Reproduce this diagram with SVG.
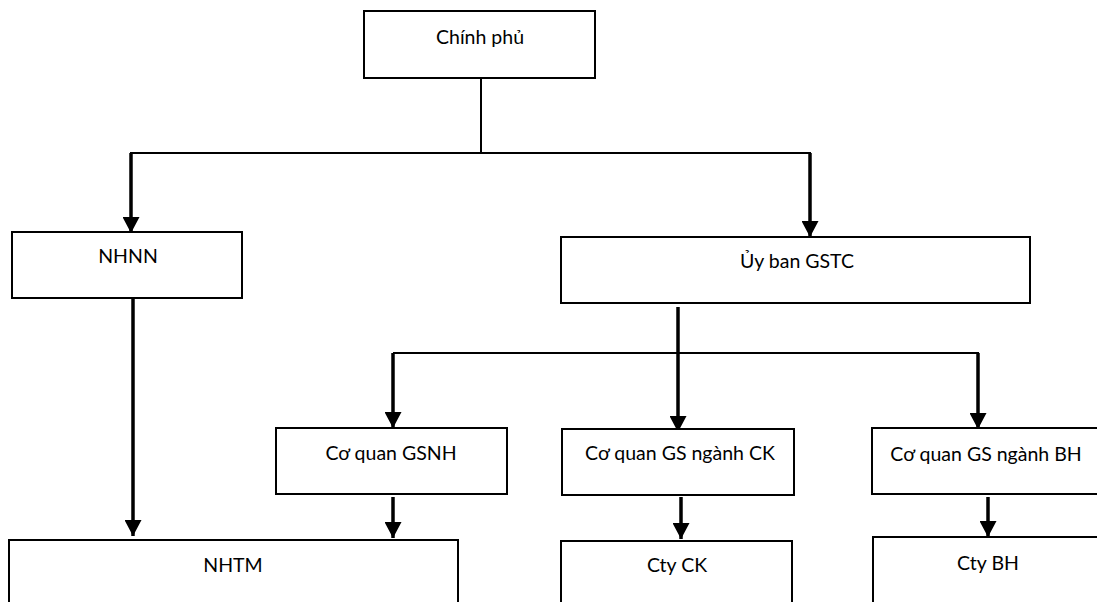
<svg xmlns="http://www.w3.org/2000/svg" width="1097" height="602" viewBox="0 0 1097 602">
<style>
.box{fill:#fff;stroke:#000;stroke-width:2}
.lbl{font-family:Lato,"Liberation Sans",sans-serif;font-size:19.5px;fill:#000;text-anchor:middle}
.thin{fill:none;stroke:#000;stroke-width:2}
.arr{fill:none;stroke:#000;stroke-width:3.5;marker-end:url(#ah)}
</style>
<defs>
<marker id="ah" markerUnits="userSpaceOnUse" markerWidth="17" markerHeight="17" refX="16" refY="8.5" orient="auto">
<path d="M0,0 L16,8.5 L0,17 Z" fill="#000"/>
</marker>
</defs>
<rect width="1097" height="602" fill="#fff"/>
<g id="connectors">
<path class="thin" d="M481,78 V153"/>
<path class="thin" d="M130,153 H811"/>
<path class="arr" d="M131,153 V233"/>
<path class="arr" d="M810,153 V237"/>
<path class="arr" d="M678,307 V432"/>
<path class="thin" d="M393,353 H979"/>
<path class="arr" d="M393,353 V428"/>
<path class="arr" d="M978,353 V429"/>
<path class="arr" d="M133,299 V536"/>
<path class="arr" d="M393,497 V538"/>
<path class="arr" d="M681,497 V539"/>
<path class="arr" d="M988,497 V537"/>
</g>
<g id="chinh-phu"><rect class="box" x="364" y="11" width="231" height="67"/><text class="lbl" x="480" y="44">Chính phủ</text></g>
<g id="nhnn"><rect class="box" x="12" y="232" width="230" height="66"/><text class="lbl" x="128" y="263">NHNN</text></g>
<g id="uy-ban-gstc"><rect class="box" x="561" y="237" width="469" height="66"/><text class="lbl" x="797" y="268">Ủy ban GSTC</text></g>
<g id="co-quan-gsnh"><rect class="box" x="276" y="428" width="231" height="66"/><text class="lbl" x="391" y="460">Cơ quan GSNH</text></g>
<g id="co-quan-gs-ck"><rect class="box" x="562" y="429" width="232" height="66"/><text class="lbl" x="680" y="460">Cơ quan GS ngành CK</text></g>
<g id="co-quan-gs-bh"><rect class="box" x="872" y="428" width="230" height="66"/><text class="lbl" x="986" y="461">Cơ quan GS ngành BH</text></g>
<g id="nhtm"><rect class="box" x="9" y="540" width="449" height="80"/><text class="lbl" x="233" y="572">NHTM</text></g>
<g id="cty-ck"><rect class="box" x="561" y="541" width="231" height="80"/><text class="lbl" x="677" y="572">Cty CK</text></g>
<g id="cty-bh"><rect class="box" x="873" y="537" width="230" height="80"/><text class="lbl" x="988" y="570">Cty BH</text></g>
</svg>
